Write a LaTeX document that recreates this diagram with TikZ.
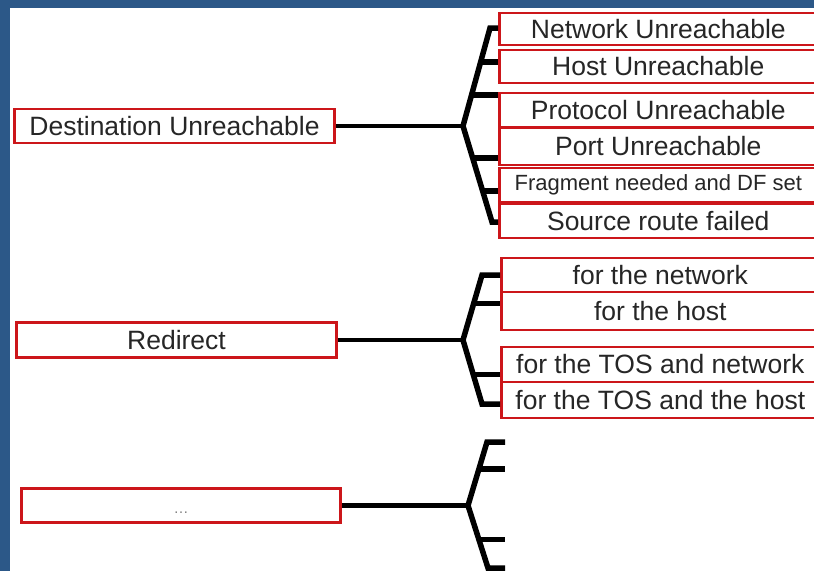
\documentclass[tikz,border=0pt]{standalone}
\usepackage{fontspec}
\setmainfont{Liberation Sans}
\usetikzlibrary{calc}

\definecolor{slideblue}{RGB}{44,88,136}
\definecolor{boxred}{RGB}{204,22,26}

\tikzset{
  item/.style={draw=boxred, line width=2.6pt, fill=white, inner sep=0pt, text=black!85,
    minimum height=34pt, font=\fontsize{26.5}{30}\selectfont},
  leaf/.style={item, anchor=west, minimum width=318pt},
  branch/.style={line width=5.5pt, line join=miter},
  trunk/.style={line width=4.5pt}
}

\begin{document}
\begin{tikzpicture}[x=1pt,y=-1pt]
\useasboundingbox (0,0) rectangle (814,571);
\clip (0,0) rectangle (814,571);
% slide frame
\fill[slideblue] (0,0) rectangle (814,571);
\fill[white] (10,8) rectangle (814,571);

% message types
\node[item, minimum width=320pt] (dest) at (174.5,126) {Destination Unreachable};
\node[item, minimum width=320pt, minimum height=35pt] (redir) at (176.5,340) {Redirect};
\node[item, minimum width=319pt, text=gray,
      font=\fontsize{15}{16}\selectfont] (more) at (181,505.5) {\rule{0pt}{16pt}\ldots};

% codes of destination unreachable
\node[leaf, minimum height=32pt] (netun) at (498,29) {Network Unreachable};
\node[leaf, minimum height=33pt] (hostun) at (498,66.5) {Host Unreachable};
\node[leaf] (protoun) at (498,110) {Protocol Unreachable};
\node[leaf, minimum height=37pt] (portun) at (498,146.5) {Port Unreachable};
\node[leaf, font=\fontsize{22}{26}\selectfont] (fragdf) at (498,185) {Fragment needed and DF set};
\node[leaf] (srcfail) at (498,221) {Source route failed};

% codes of redirect
\node[leaf] (rnet) at (500,275) {for the network};
\node[leaf, minimum height=38pt] (rhost) at (500,311) {for the host};
\node[leaf, minimum height=35pt] (rtosnet) at (500,364.5) {for the TOS and network};
\node[leaf, minimum height=36pt] (rtoshost) at (500,400) {for the TOS and the host};

% first bracket
\coordinate (j1) at (463,126);
\coordinate (t1) at (490,28);
\coordinate (b1) at (492,222);
\coordinate (s1a) at ($(j1)!.653!(t1)$);
\coordinate (s1b) at ($(j1)!.316!(t1)$);
\coordinate (s1c) at ($(j1)!.333!(b1)$);
\coordinate (s1d) at ($(j1)!.677!(b1)$);
\draw[trunk] (dest.east) -- (j1);
\draw[branch] (t1 -| netun.west) -- (t1) -- (j1) -- (b1) -- (b1 -| srcfail.west);
\foreach \c/\n in {s1a/hostun, s1b/protoun, s1c/portun, s1d/fragdf}
  \draw[branch] (\c) -- (\c -| \n.west);

% second bracket
\coordinate (j2) at (463,340);
\coordinate (t2) at (482,275);
\coordinate (b2) at (482,404);
\coordinate (s2a) at ($(j2)!.5625!(t2)$);
\coordinate (s2b) at ($(j2)!.538!(b2)$);
\draw[trunk] (redir.east) -- (j2);
\draw[branch] (t2 -| rnet.west) -- (t2) -- (j2) -- (b2) -- (b2 -| rtoshost.west);
\draw[branch] (s2a) -- (s2a -| rhost.west);
\draw[branch] (s2b) -- (s2b -| rtosnet.west);

% third bracket, open ends
\coordinate (j3) at (468,505.5);
\coordinate (t3) at (487,442);
\coordinate (b3) at (488,568);
\coordinate (edge3) at (505,505);
\coordinate (s3a) at ($(j3)!.571!(t3)$);
\coordinate (s3b) at ($(j3)!.54!(b3)$);
\draw[trunk] (more.east) -- (j3);
\draw[branch] (t3 -| edge3) -- (t3) -- (j3) -- (b3) -- (b3 -| edge3);
\draw[branch] (s3a) -- (s3a -| edge3);
\draw[branch] (s3b) -- (s3b -| edge3);
\end{tikzpicture}
\end{document}
